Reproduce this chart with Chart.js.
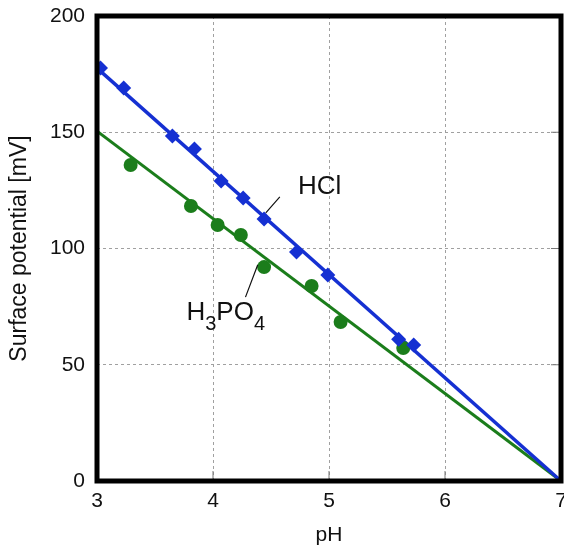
<!DOCTYPE html>
<html>
<head>
<meta charset="utf-8">
<script src="https://cdn.jsdelivr.net/npm/chart.js@4/dist/chart.umd.min.js"></script>
<style>
  html, body { margin: 0; padding: 0; background: #fff; }
  #wrap { width: 564px; height: 551px; }
</style>
</head>
<body>
<div id="wrap"><canvas id="c" width="564" height="551"></canvas></div>
<script>
// measured points, HCl
var HCL_PH = [3.03, 3.23, 3.65, 3.84, 4.07, 4.26, 4.44, 4.72, 4.99, 5.60, 5.73];
var HCL_MV = [177.6, 169, 148.4, 142.8, 129, 121.7, 112.7, 98.5, 88.6, 61, 58.5];

// measured points, H3PO4
var H3PO4_PH = [3.29, 3.81, 4.04, 4.24, 4.44, 4.85, 5.10, 5.64];
var H3PO4_MV = [135.9, 118.3, 110.1, 105.8, 92, 83.9, 68.4, 57.2];

// fitted lines (end points)
var FIT_PH = [3, 7];
var HCL_FIT_MV = [177.6, 0];
var H3PO4_FIT_MV = [150.5, 0];

var X_TICKS = [3, 4, 5, 6, 7];
var Y_TICKS = [0, 50, 100, 150, 200];

var BLUE  = "#1530d2";
var GREEN = "#1b7d1b";
var FONT  = "'Liberation Sans', Arial, sans-serif";

function pts(xs, ys) {
    return xs.map(function (x, i) { return { x: x, y: ys[i] }; });
}

// frame, inner ticks and labels drawn on top
var extras = {
    id: "extras",
    afterDatasetsDraw: function (chart) {
        var ctx = chart.ctx, a = chart.chartArea;
        var xs = chart.scales.x, ys = chart.scales.y;
        function px(v) { return xs.getPixelForValue(v); }
        function py(v) { return ys.getPixelForValue(v); }

        ctx.save();
        // small inner ticks (bottom and right)
        ctx.strokeStyle = "#777";
        ctx.lineWidth = 1;
        ctx.beginPath();
        X_TICKS.forEach(function (v) {
            ctx.moveTo(px(v), a.bottom);
            ctx.lineTo(px(v), a.bottom - 10);
        });
        Y_TICKS.forEach(function (v) {
            ctx.moveTo(a.right, py(v));
            ctx.lineTo(a.right - 10, py(v));
        });
        ctx.stroke();

        // leader lines
        ctx.strokeStyle = "#111";
        ctx.lineWidth = 1.2;
        ctx.beginPath();
        ctx.moveTo(px(4.455), py(115.3));
        ctx.lineTo(px(4.576), py(122.2));
        ctx.moveTo(px(4.385), py(92.9));
        ctx.lineTo(px(4.28), py(79.1));
        ctx.stroke();

        // labels
        ctx.fillStyle = "#111";
        ctx.textBaseline = "alphabetic";
        ctx.textAlign = "left";
        ctx.font = "26px " + FONT;
        ctx.fillText("HCl", px(4.732), py(123.4));

        var x = px(3.771), base = py(69.2);
        var big = "26px " + FONT, small = "20px " + FONT;
        ctx.font = big;  ctx.fillText("H", x, base);  x += ctx.measureText("H").width;
        ctx.font = small; ctx.fillText("3", x, base + 10); x += ctx.measureText("3").width;
        ctx.font = big;  ctx.fillText("PO", x, base); x += ctx.measureText("PO").width;
        ctx.font = small; ctx.fillText("4", x, base + 10);

        // thick frame
        ctx.strokeStyle = "#000";
        ctx.lineWidth = 5;
        ctx.strokeRect(a.left, a.top, a.right - a.left, a.bottom - a.top);
        ctx.restore();
    }
};

new Chart(document.getElementById("c").getContext("2d"), {
    type: "scatter",
    data: {
        datasets: [
            {
                label: "HCl fit",
                type: "line",
                data: pts(FIT_PH, HCL_FIT_MV),
                borderColor: BLUE,
                borderWidth: 3.5,
                pointRadius: 0,
                fill: false,
                order: 3
            },
            {
                label: "H3PO4 fit",
                type: "line",
                data: pts(FIT_PH, H3PO4_FIT_MV),
                borderColor: GREEN,
                borderWidth: 3,
                pointRadius: 0,
                fill: false,
                order: 4
            },
            {
                label: "HCl",
                data: pts(HCL_PH, HCL_MV),
                pointStyle: "rectRot",
                pointRadius: 7.5,
                backgroundColor: BLUE,
                borderColor: BLUE,
                borderWidth: 0,
                order: 1
            },
            {
                label: "H3PO4",
                data: pts(H3PO4_PH, H3PO4_MV),
                pointStyle: "circle",
                pointRadius: 7,
                backgroundColor: GREEN,
                borderColor: GREEN,
                borderWidth: 0,
                order: 2
            }
        ]
    },
    options: {
        responsive: false,
        animation: false,
        layout: { autoPadding: false, padding: { top: 16, right: 3, left: 0, bottom: 0 } },
        plugins: {
            legend: { display: false },
            tooltip: { enabled: false }
        },
        scales: {
            x: {
                type: "linear",
                min: 3, max: 7,
                afterBuildTicks: function (s) { s.ticks = X_TICKS.map(function (v) { return { value: v }; }); },
                afterFit: function (s) { s.height = 70; s.paddingLeft = 0; s.paddingRight = 0; },
                grid: {
                    color: "#a0a0a0",
                    lineWidth: 1,
                    drawTicks: false
                },
                border: { display: false, dash: [3, 3] },
                ticks: { color: "#111", font: { family: FONT, size: 21 }, padding: 8, maxRotation: 0 },
                title: { display: true, text: "pH", color: "#111", font: { family: FONT, size: 21 }, padding: { top: 0, bottom: 3 } }
            },
            y: {
                type: "linear",
                min: 0, max: 200,
                afterBuildTicks: function (s) { s.ticks = Y_TICKS.map(function (v) { return { value: v }; }); },
                afterFit: function (s) { s.width = 97; s.paddingTop = 0; s.paddingBottom = 0; },
                grid: {
                    color: "#a0a0a0",
                    lineWidth: 1,
                    drawTicks: false
                },
                border: { display: false, dash: [3, 3] },
                ticks: { color: "#111", font: { family: FONT, size: 21 }, padding: 12 },
                title: { display: true, text: "Surface potential [mV]", color: "#111", font: { family: FONT, size: 23 }, padding: { top: 6, bottom: 0 } }
            }
        }
    },
    plugins: [extras]
});
</script>
</body>
</html>
